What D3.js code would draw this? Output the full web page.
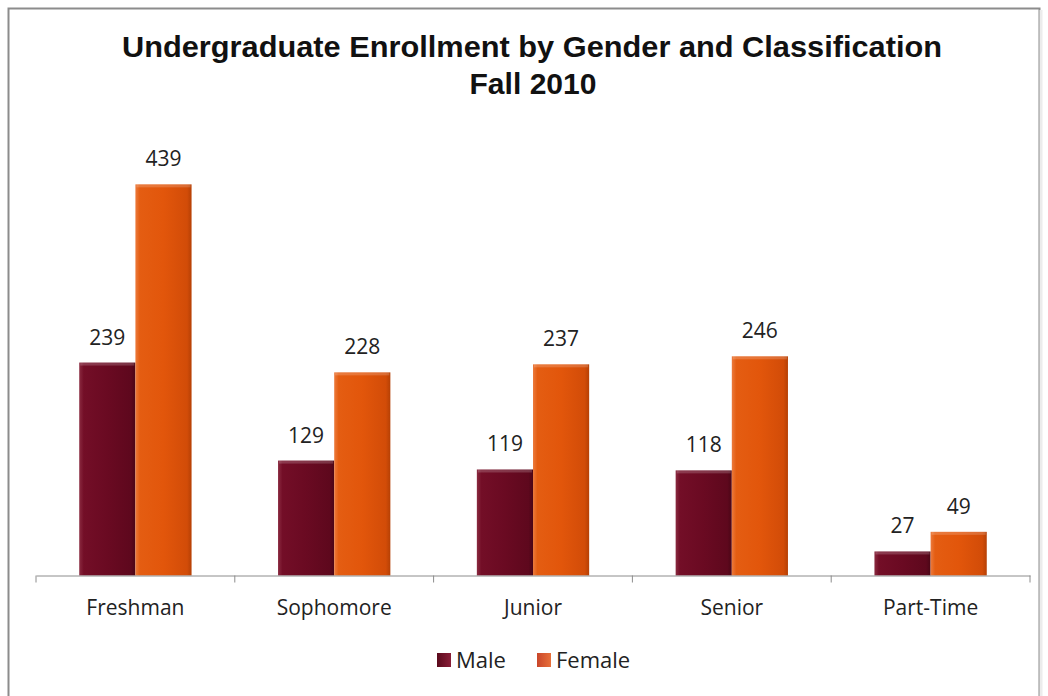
<!DOCTYPE html>
<html>
<head>
<meta charset="utf-8">
<script src="https://cdn.jsdelivr.net/npm/d3@7"></script>
<style>
  body { margin: 0; background: #fff; }
  text { font-family: "Open Sans", Lato, sans-serif; }
</style>
</head>
<body>
<div id="chart"></div>
<script>
// data
var categories = ["Freshman", "Sophomore", "Junior", "Senior", "Part-Time"];
var series = ["Male", "Female"];
var maleValues = [239, 129, 119, 118, 27];
var femaleValues = [439, 228, 237, 246, 49];
var titleLines = ["Undergraduate Enrollment by Gender and Classification", "Fall 2010"];

var w = 1048;
var h = 696;
var colors = { Male: "male", Female: "female" };

var svg = d3.select("#chart")
            .append("svg")
            .attr("width", w)
            .attr("height", h);

// gradients for the bevelled bars
var defs = svg.append("defs");
function grad(id, stops) {
    var g = defs.append("linearGradient").attr("id", id)
        .attr("x1", "0%").attr("x2", "100%").attr("y1", "0%").attr("y2", "0%");
    stops.forEach(s => g.append("stop").attr("offset", s[0]).attr("stop-color", s[1]));
}
grad("male", [["0%", "#8a2a40"], ["8%", "#730e27"], ["50%", "#6a0a22"], ["92%", "#5e081d"], ["100%", "#4a0616"]]);
grad("female", [["0%", "#ec7a3c"], ["8%", "#e45d12"], ["50%", "#e2560b"], ["92%", "#d24c08"], ["100%", "#b54005"]]);
grad("maleKey", [["0%", "#5a0a1c"], ["100%", "#8a1e38"]]);
grad("femaleKey", [["0%", "#c9462a"], ["100%", "#e8703a"]]);

// frame (left / top border, right edge has a soft shadow)
svg.append("rect")
    .attr("x", 8.5).attr("y", 8.5)
    .attr("width", 1031).attr("height", 700)
    .attr("fill", "#fff")
    .attr("stroke", "#8c8c8c")
    .attr("stroke-width", 2);
svg.append("line")
    .attr("x1", 1041).attr("x2", 1041).attr("y1", 10).attr("y2", 696)
    .attr("stroke", "#ececec").attr("stroke-width", 3);

// scales
var x0 = d3.scaleBand()
    .domain(categories)
    .range([36, 1030]);
var x1 = d3.scaleBand()
    .domain(series)
    .range([0, x0.bandwidth()])
    .paddingOuter(0.77);
var y = d3.scaleLinear()
    .domain([0, 500])
    .range([575.5, 130]);

var rows = categories.map((c, i) => ({ cat: c, Male: maleValues[i], Female: femaleValues[i] }));

// bars
var groups = svg.selectAll(".grp")
    .data(rows)
    .enter()
    .append("g")
    .attr("class", "grp")
    .attr("transform", d => "translate(" + x0(d.cat) + ",0)");

groups.selectAll("rect")
    .data(d => series.map(s => ({ s: s, v: d[s] })))
    .enter()
    .append("rect")
    .attr("x", d => x1(d.s))
    .attr("y", d => y(d.v))
    .attr("width", x1.bandwidth())
    .attr("height", d => y(0) - y(d.v))
    .attr("fill", d => "url(#" + colors[d.s] + ")");

// top highlight on each bar
groups.selectAll(".hl")
    .data(d => series.map(s => ({ s: s, v: d[s] })))
    .enter()
    .append("rect")
    .attr("class", "hl")
    .attr("x", d => x1(d.s) + 1)
    .attr("y", d => y(d.v))
    .attr("width", x1.bandwidth() - 2)
    .attr("height", 3)
    .attr("fill", "#fff")
    .attr("opacity", 0.18);

// value labels
groups.selectAll(".lbl")
    .data(d => series.map(s => ({ s: s, v: d[s] })))
    .enter()
    .append("text")
    .attr("class", "lbl")
    .attr("x", d => x1(d.s) + x1.bandwidth() / 2)
    .attr("y", d => y(d.v) - 18)
    .attr("text-anchor", "middle")
    .attr("font-size", 21)
    .attr("fill", "#222")
    .text(d => d.v);

// x axis
var xAxis = d3.axisBottom(x0).tickSize(0).tickPadding(25);
var gx = svg.append("g")
    .attr("transform", "translate(0," + y(0) + ")")
    .call(xAxis);
gx.select(".domain").attr("stroke", "#8c8c8c");
gx.selectAll("text")
    .attr("font-size", 21)
    .attr("fill", "#222")
    .style("font-family", "'Open Sans', Lato, sans-serif");
// category boundary ticks
gx.selectAll(".sep")
    .data(x0.domain().map(c => x0(c)).concat([x0.range()[1]]))
    .enter()
    .append("line")
    .attr("class", "sep")
    .attr("x1", d => d).attr("x2", d => d)
    .attr("y1", 0).attr("y2", 7)
    .attr("stroke", "#8c8c8c");

// title
svg.append("text")
    .attr("x", 532).attr("y", 57)
    .attr("text-anchor", "middle")
    .attr("font-size", 30)
    .attr("font-weight", "bold")
    .attr("textLength", 820)
    .attr("lengthAdjust", "spacingAndGlyphs")
    .style("font-family", "'Liberation Sans', Arial, sans-serif")
    .attr("fill", "#111")
    .text(titleLines[0]);
svg.append("text")
    .attr("x", 533).attr("y", 94)
    .attr("text-anchor", "middle")
    .attr("font-size", 30)
    .attr("font-weight", "bold")
    .attr("textLength", 127)
    .attr("lengthAdjust", "spacingAndGlyphs")
    .style("font-family", "'Liberation Sans', Arial, sans-serif")
    .attr("fill", "#111")
    .text(titleLines[1]);

// legend
var legendX = d3.scaleOrdinal().domain(series).range([437, 537]);
var lg = svg.selectAll(".legend")
    .data(series)
    .enter()
    .append("g")
    .attr("class", "legend")
    .attr("transform", d => "translate(" + legendX(d) + ",653)");
lg.append("rect")
    .attr("width", 14).attr("height", 14)
    .attr("fill", d => "url(#" + colors[d] + "Key)");
lg.append("text")
    .attr("x", 19).attr("y", 15)
    .attr("font-size", 22)
    .attr("fill", "#222")
    .text(d => d);
</script>
</body>
</html>
